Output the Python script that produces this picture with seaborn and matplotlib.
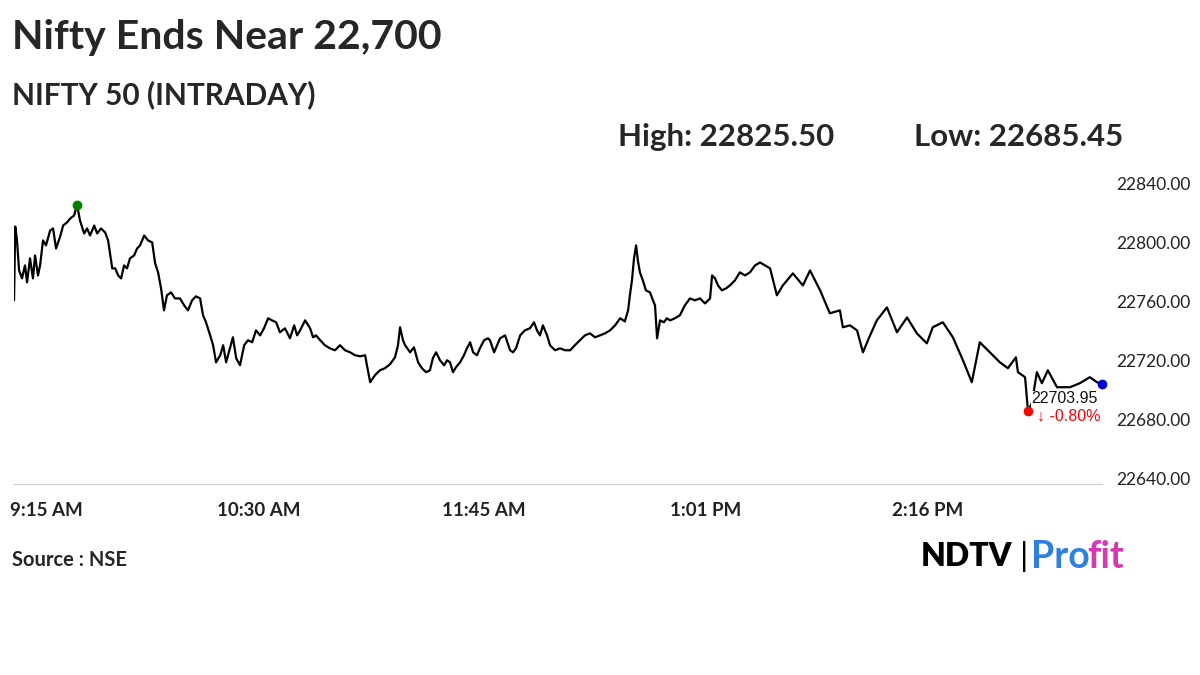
import matplotlib
matplotlib.use("Agg")
import matplotlib.pyplot as plt
import seaborn as sns
import pandas as pd

# minutes from 9:15 AM
minutes = [-7.8,-7.4,-6.8,-6.1,-5.1,-4.1,-3.4,-2.4,-1.4,-0.7,0.3,1.0,2.0,3.0,4.4,5.4,6.4,7.8,8.8,10.1,11.2,12.5,13.5,14.5,15.9,16.9,17.9,19.3,20.3,21.6,23.0,24.0,25.4,26.4,27.4,28.4,29.4,30.4,31.4,32.8,33.8,34.8,36.2,37.5,38.9,39.9,40.9,41.9,42.9,43.9,45.3,46.6,48.3,49.7,51.0,52.4,53.7,55.1,56.1,57.1,58.5,59.5,60.5,61.9,62.9,63.9,65.2,66.2,67.3,68.6,70.0,71.3,72.7,74.0,75.4,76.7,78.1,79.4,80.8,82.1,83.8,85.5,86.9,87.9,88.9,90.6,92.3,93.3,94.3,95.7,97.3,99.0,100.7,102.4,104.1,105.8,107.5,109.2,110.9,111.5,112.6,114.2,115.9,117.6,119.3,121.0,122.0,122.7,123.7,124.4,126.1,127.4,128.8,130.1,131.5,132.8,133.8,134.9,136.2,137.6,138.6,139.6,140.6,141.6,143.0,144.3,145.3,146.4,147.4,148.7,149.7,151.1,152.4,153.1,154.5,155.5,156.5,158.2,159.9,160.9,161.9,163.3,164.9,166.6,168.0,169.0,170.0,171.0,172.4,173.4,175.1,176.8,178.5,180.2,181.8,183.5,185.2,186.9,188.6,190.3,192.0,193.7,195.4,197.1,198.7,199.8,200.4,201.1,201.8,202.5,203.1,203.8,204.8,205.8,207.2,208.2,208.9,209.6,210.6,211.9,212.9,214.0,215.6,217.3,219.0,220.7,222.4,224.1,225.8,227.5,228.2,229.2,230.2,231.5,232.9,234.2,235.9,237.6,239.3,241.0,242.7,244.4,246.1,247.8,250.1,252.1,255.5,258.9,261.3,264.7,268.0,271.4,272.4,274.8,277.2,279.2,281.6,283.9,287.3,290.7,294.1,297.4,300.8,302.8,306.2,309.6,313.0,316.0,318.7,322.1,325.5,328.2,330.9,331.6,334.0,335.0,336.3,338.0,339.7,341.7,344.8,349.2,352.5,355.9,358.3,360.0]
prices = [22760.7,22810.8,22801.4,22781,22775.6,22784.4,22772.9,22789.2,22775.6,22791.2,22777.6,22784.4,22801.4,22798,22808.1,22809.5,22795.9,22804.1,22811.5,22813.6,22816.3,22818.3,22825.5,22814.9,22806.1,22809.5,22804.7,22811.5,22806.1,22809.5,22806.8,22801.4,22782.4,22782.4,22777.6,22775.6,22784.4,22782.4,22789.2,22791.2,22795.9,22798,22804.7,22801.4,22800,22785.8,22779.7,22768.8,22753.9,22764.1,22766.1,22762,22762,22757.3,22753.9,22760.7,22763.4,22762,22750.5,22745.8,22736.9,22730.2,22718.6,22723.4,22730.2,22718.6,22728.1,22735.6,22721.4,22716.6,22730.2,22733.6,22732.2,22740.3,22736.9,22741.7,22748.5,22747.1,22745.8,22739,22741.7,22734.9,22743.7,22736.9,22740.3,22747.1,22741.7,22735.6,22736.9,22733.6,22730.2,22728.1,22726.8,22730.2,22726.8,22725.4,22723.4,22722.7,22723.4,22716.6,22705.1,22709.8,22713.2,22714.6,22717.3,22722,22730.2,22742.4,22733.6,22730.2,22725.4,22728.8,22718.6,22714.6,22711.9,22713.2,22721.4,22725.4,22720,22716.6,22720,22718.6,22711.9,22715.2,22718.6,22723.4,22728.1,22732.2,22725.4,22723.4,22728.1,22733.6,22734.9,22733.6,22725.4,22730.2,22734.9,22736.9,22726.8,22725.4,22728.1,22736.9,22740.3,22741.7,22745.8,22740.3,22736.9,22743.7,22736.9,22730.2,22726.8,22728.1,22726.8,22726.8,22730.2,22733.6,22736.9,22738.3,22735.6,22736.9,22738.3,22740.3,22743.7,22748.5,22746.4,22753.9,22764.1,22774.2,22789.2,22798,22787.8,22779.7,22774.2,22767.5,22766.1,22760.7,22757.3,22734.9,22747.1,22745.8,22748.5,22747.1,22748.5,22750.5,22757.3,22762,22760.7,22762,22758.6,22762,22777.6,22775.6,22770.8,22767.5,22768.8,22770.8,22774.2,22779.7,22777.6,22779.7,22784.4,22786.4,22784.4,22782.4,22764.1,22770.8,22779,22770.8,22781,22767.5,22751.9,22753.9,22742.4,22743.7,22740.3,22725.4,22736.9,22747.1,22755.9,22739,22749.1,22738.3,22731.5,22742.4,22745.8,22735.6,22720,22705.1,22732.2,22725.4,22718.6,22714.6,22722,22711.9,22708.5,22685.45,22690.8,22711.9,22704.4,22713.2,22701.7,22701.7,22704.4,22708.5,22705.1,22703.95]

tick_pos = [3, 75, 151, 226, 301, 360]
tick_labels = ["9:15 AM", "10:30 AM", "11:45 AM", "1:01 PM", "2:16 PM", ""]
y_ticks = [22640, 22680, 22720, 22760, 22800, 22840]
high_val, low_val, last_val, change_pct = 22825.50, 22685.45, 22703.95, -0.80

df = pd.DataFrame({"t": minutes, "p": prices})

sns.set_style("white")
plt.rcParams['font.family'] = ['Lato', 'DejaVu Sans']
fig = plt.figure(figsize=(12, 6.75), dpi=100)
ax = fig.add_axes([0.0117, 0.283, 0.9066, 0.456])
sns.lineplot(data=df, x="t", y="p", ax=ax, color="black", linewidth=1.6)

ax.set_xlim(-7.8, 360)
ax.set_ylim(22636, 22845)
ax.set_xticks(tick_pos)
ax.set_xticklabels(tick_labels, fontsize=13.5, fontweight="bold", color="#222222")
ax.set_yticks(y_ticks)
ax.set_yticklabels([f"{v:.2f}" for v in y_ticks], fontsize=12.5, color="#222222")
ax.yaxis.tick_right()
ax.tick_params(axis="y", length=0, pad=10)
ax.tick_params(axis="x", length=5, color="#cccccc", pad=8)
for s in ["top", "left", "right"]:
    ax.spines[s].set_visible(False)
ax.spines["bottom"].set_color("#cccccc")
ax.set_xlabel("")
ax.set_ylabel("")

hi_i = prices.index(high_val)
lo_i = prices.index(low_val)
ax.scatter([minutes[hi_i]], [high_val], color="green", s=36, zorder=5, clip_on=False)
ax.scatter([minutes[lo_i]], [low_val], color="red", s=36, zorder=5, clip_on=False)
ax.scatter([minutes[-1]], [last_val], color="#0000cc", s=36, zorder=5, clip_on=False)
ax.text(minutes[-1] - 1.5, last_val - 5, f"{last_val:.2f}", ha="right", va="top",
        fontsize=11.5, color="#111111", family=["Liberation Sans"],
        bbox=dict(facecolor="white", edgecolor="none", pad=0.5), zorder=4)
ax.text(minutes[-1] - 0.5, last_val - 17, f"\u2193 {change_pct:.2f}%", ha="right", va="top",
        fontsize=11.5, color="red", family=["Liberation Sans", "DejaVu Sans"])

fig.text(0.01, 0.945, "Nifty Ends Near 22,700", fontsize=29.5, fontweight="bold", va="center")
fig.text(0.01, 0.86, "NIFTY 50 (INTRADAY)", fontsize=21.5, fontweight="bold", va="center")
fig.text(0.515, 0.797, f"High: {high_val:.2f}", fontsize=22.5, fontweight="bold", va="center")
fig.text(0.762, 0.797, f"Low: {low_val:.2f}", fontsize=22.5, fontweight="bold", va="center")
fig.text(0.01, 0.17, "Source : NSE", fontsize=14.5, fontweight="bold", va="center")
fig.text(0.767, 0.175, "NDTV", fontsize=23, fontweight="heavy", va="center", color="black")
fig.text(0.850, 0.175, "|", fontsize=24, va="center", color="black")
fig.text(0.859, 0.175, "Pro", fontsize=27, fontweight="bold", va="center", color="#2f7fe0")
fig.text(0.906, 0.175, "fit", fontsize=27, fontweight="bold", va="center", color="#d63ab0")

fig.savefig("out.png", dpi=100)
